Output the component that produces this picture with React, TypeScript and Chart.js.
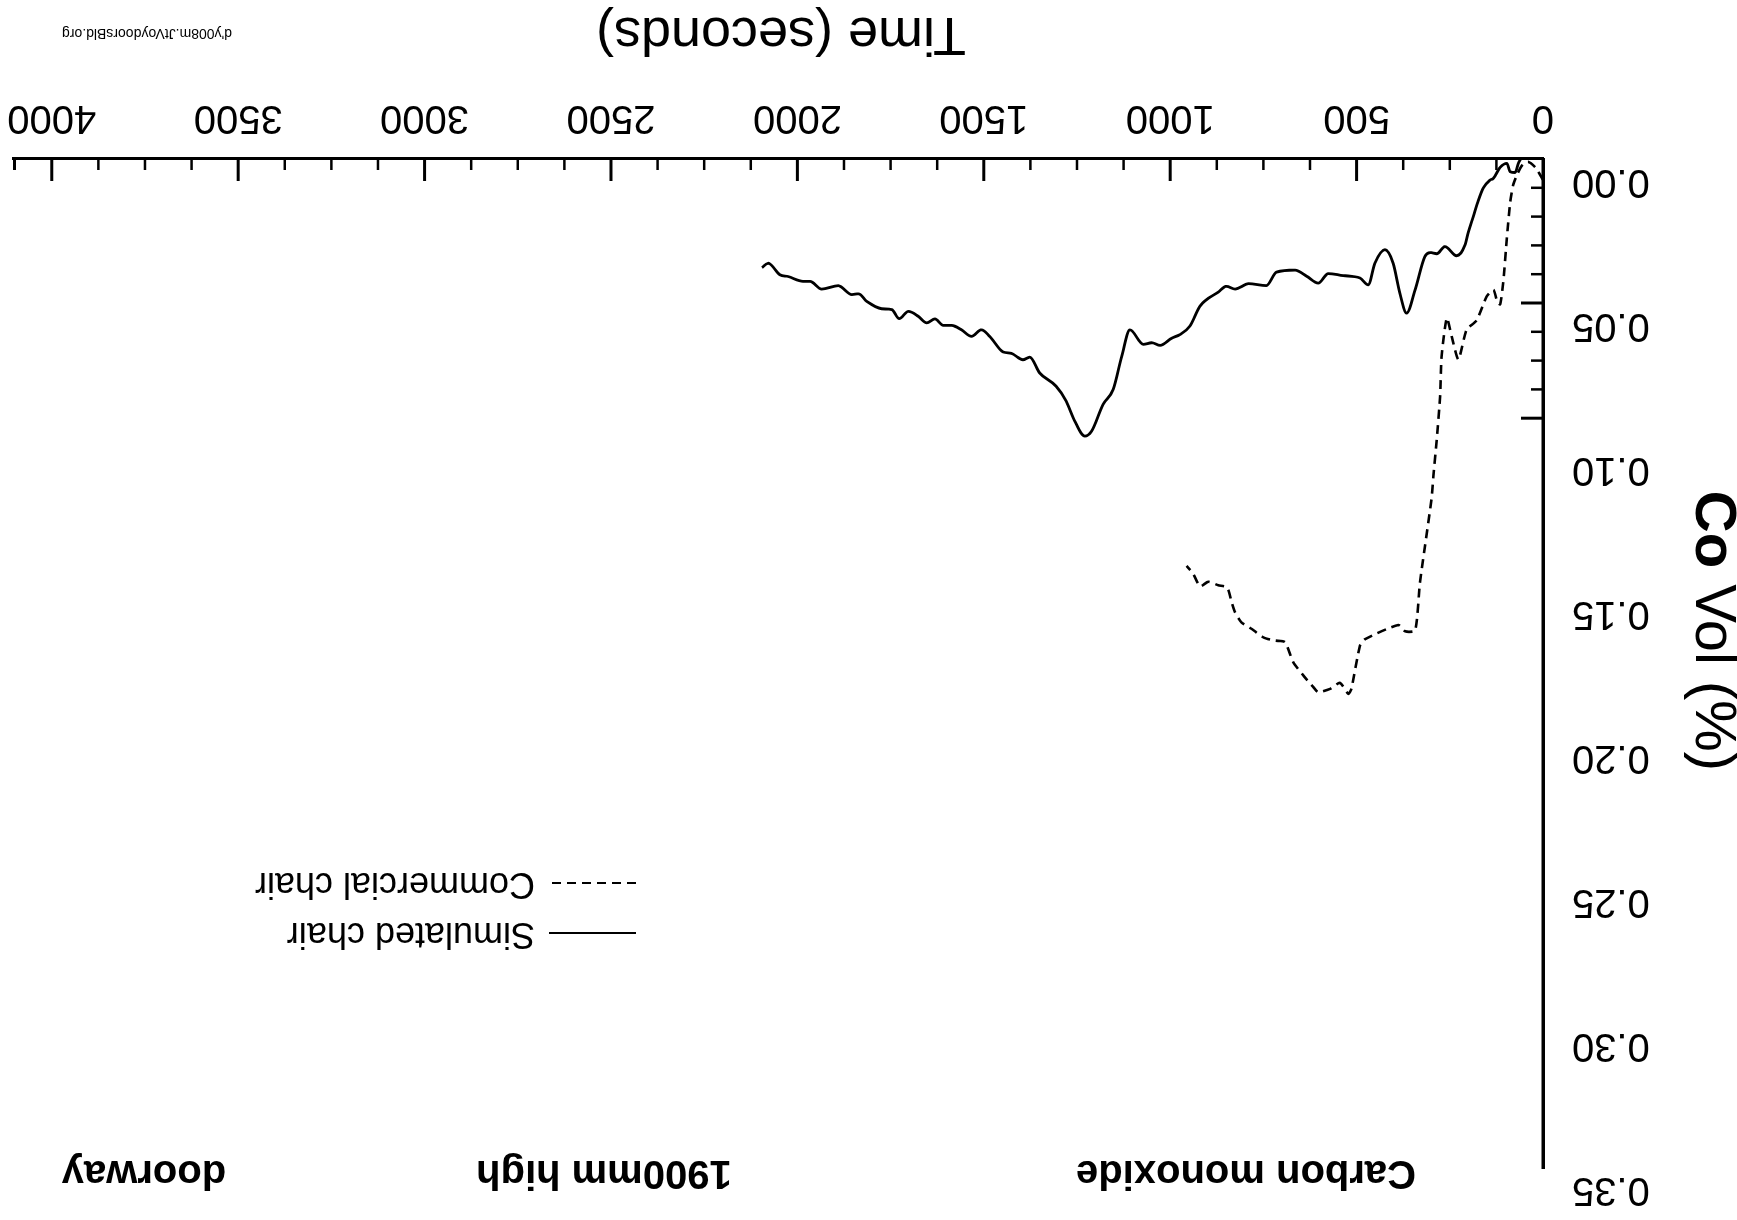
import { useEffect, useRef } from 'react';
import { Chart, registerables } from 'chart.js';

Chart.register(...registerables);

// ---- Data (time in seconds, CO volume in %) ----
const simulatedTime = [
  60, 66, 75, 88, 97, 115, 133, 142, 160, 175, 187, 201, 209, 232, 263, 285, 303, 317, 343, 366,
  384, 402, 424, 451, 469, 491, 536, 576, 603, 634, 665, 715, 742, 790, 826, 849, 871, 920, 947, 974,
  996, 1027, 1050, 1072, 1108, 1130, 1153, 1180, 1211, 1229, 1256, 1279, 1306, 1350, 1377, 1395, 1426, 1448, 1484, 1506,
  1533, 1560, 1586, 1609, 1631, 1653, 1676, 1702, 1727, 1747, 1774, 1814, 1836, 1854, 1890, 1935, 1966, 1985, 2025, 2047,
  2078, 2095,
];
const simulatedCO = [
  0.0, 0.0015, 0.0047, 0.0044, 0.0015, 0.0029, 0.0067, 0.0073, 0.01, 0.015, 0.02, 0.0257, 0.0298, 0.0336, 0.0304, 0.0329, 0.0325, 0.0339, 0.0454, 0.0535,
  0.0466, 0.0362, 0.0315, 0.0362, 0.0437, 0.0413, 0.0405, 0.0398, 0.0431, 0.0407, 0.0386, 0.0393, 0.044, 0.0433, 0.0452, 0.0442, 0.0462, 0.0511, 0.058, 0.061,
  0.0622, 0.0647, 0.0638, 0.0644, 0.0593, 0.0685, 0.08, 0.0852, 0.0945, 0.0962, 0.091, 0.0841, 0.0789, 0.0743, 0.0688, 0.0697, 0.0675, 0.067, 0.0616, 0.0593,
  0.0616, 0.0593, 0.0578, 0.0578, 0.0555, 0.0569, 0.0546, 0.0529, 0.0554, 0.0523, 0.052, 0.0494, 0.0468, 0.0471, 0.044, 0.0452, 0.0425, 0.0425, 0.0408, 0.0402,
  0.0362, 0.0377,
];
const commercialTime = [
  0, 20, 40, 55, 68, 80, 88, 97, 106, 115, 124, 133, 151, 178, 205, 227, 245, 258, 272, 276,
  285, 294, 299, 330, 343, 370, 388, 477, 491, 514, 522, 545, 571, 603, 616, 643, 670, 692, 719, 750,
  781, 809, 826, 835, 847, 871, 898, 920, 938, 956,
];
const commercialCO = [
  0.0072, 0.003, 0.001, 0.002, 0.005, 0.009, 0.015, 0.0275, 0.0419, 0.0505, 0.0489, 0.0454, 0.0477, 0.056, 0.0593, 0.0696, 0.0616, 0.0552, 0.0685, 0.0824,
  0.0974, 0.11, 0.118, 0.147, 0.1637, 0.164, 0.1618, 0.1667, 0.169, 0.184, 0.1857, 0.1819, 0.184, 0.1851, 0.1834, 0.1793, 0.1747, 0.1678, 0.1672, 0.1661,
  0.1632, 0.1609, 0.1574, 0.154, 0.1488, 0.148, 0.1468, 0.1484, 0.1441, 0.1413,
];

const seriesLabels = ['Simulated chair', 'Commercial chair'];
const xMin = 0;
const xMax = 4104;
const xTickValues = [0, 500, 1000, 1500, 2000, 2500, 3000, 3500, 4000];
const xMinorStep = 125;
const xTickEnd = 4000;
const yMin = 0;
const yMax = 0.35;
const yTickValues = [0, 0.05, 0.1, 0.15, 0.2, 0.25, 0.3, 0.35];
const yMinorTicks = [0.01, 0.02, 0.03, 0.04, 0.05, 0.06, 0.07, 0.08, 0.09];
const yLongTicks = [0.05, 0.09];
const xTitle = 'Time (seconds)';
const yTitleBold = 'Co';
const yTitleRest = ' Vol (%)';
const titleParts = ['Carbon monoxide', '1900mm high', 'doorway'];
const watermark = "d'y008m.JtVoydoorsBld.org";

const FONT = '"Liberation Sans", Arial, Helvetica, sans-serif';

const decorPlugin = {
  id: 'decor',
  afterDraw(chart: any) {
    const { ctx, chartArea } = chart;
    const x = chart.scales.x;
    const y = chart.scales.y;
    ctx.save();
    ctx.strokeStyle = '#000';
    ctx.fillStyle = '#000';
    ctx.lineCap = 'butt';

    // x-axis tick marks pointing into the plot
    for (let t = xMinorStep; t <= xTickEnd; t += xMinorStep) {
      const px = x.getPixelForValue(t);
      const major = xTickValues.includes(t);
      ctx.lineWidth = major ? 3 : 2.5;
      ctx.beginPath();
      ctx.moveTo(px, chartArea.bottom);
      ctx.lineTo(px, chartArea.bottom - (major ? 22 : 11));
      ctx.stroke();
    }
    // small hook at the end of the x axis
    ctx.lineWidth = 3;
    ctx.beginPath();
    ctx.moveTo(chartArea.right - 1.5, chartArea.bottom);
    ctx.lineTo(chartArea.right - 1.5, chartArea.bottom - 11);
    ctx.stroke();

    // y-axis tick marks pointing into the plot
    yMinorTicks.forEach((v) => {
      const py = y.getPixelForValue(v);
      const major = yLongTicks.includes(v);
      ctx.lineWidth = major ? 3 : 2.5;
      ctx.beginPath();
      ctx.moveTo(chartArea.left, py);
      ctx.lineTo(chartArea.left + (major ? 22 : 12), py);
      ctx.stroke();
    });

    // x-axis title
    ctx.font = `54px ${FONT}`;
    ctx.textAlign = 'center';
    ctx.textBaseline = 'middle';
    ctx.fillText(xTitle, (chartArea.left + chartArea.right) / 2 - 3, 1187);

    // y-axis title: bold "Co" + regular " Vol (%)"
    ctx.save();
    ctx.translate(25, 589);
    ctx.rotate(-Math.PI / 2);
    ctx.textAlign = 'left';
    ctx.textBaseline = 'middle';
    ctx.font = `bold 58px ${FONT}`;
    const wBold = ctx.measureText(yTitleBold).width;
    ctx.font = `58px ${FONT}`;
    const wRest = ctx.measureText(yTitleRest).width;
    const start = -(wBold + wRest) / 2;
    ctx.font = `bold 58px ${FONT}`;
    ctx.fillText(yTitleBold, start, 0);
    ctx.font = `58px ${FONT}`;
    ctx.fillText(yTitleRest, start + wBold, 0);
    ctx.restore();

    // chart title (cut off at the page edge)
    ctx.font = `bold 40px ${FONT}`;
    ctx.textAlign = 'center';
    ctx.textBaseline = 'middle';
    const titleX = [491, 1133, 1593];
    titleParts.forEach((s, i) => ctx.fillText(s, titleX[i], 48));

    // legend
    const rows = [287, 337];
    chart.data.datasets.forEach((ds: any, i: number) => {
      const yy = rows[i];
      ctx.save();
      ctx.lineWidth = 2.2;
      ctx.setLineDash(ds.borderDash || []);
      ctx.beginPath();
      ctx.moveTo(1101, yy);
      ctx.lineTo(1188, yy);
      ctx.stroke();
      ctx.restore();
      ctx.font = `36px ${FONT}`;
      ctx.textAlign = 'left';
      ctx.textBaseline = 'middle';
      ctx.fillText(ds.label, 1202, yy);
    });

    // tiny source mark
    ctx.font = `14px ${FONT}`;
    ctx.textAlign = 'center';
    ctx.fillText(watermark, 1590, 1187);

    ctx.restore();
  },
};

function CoChart() {
  const ref = useRef<HTMLCanvasElement | null>(null);
  useEffect(() => {
    if (!ref.current) return;
    const chart = new Chart(ref.current, {
      type: 'line',
      data: {
        datasets: [
          {
            label: seriesLabels[0],
            data: simulatedTime.map((t, i) => ({ x: t, y: simulatedCO[i] })),
            borderColor: '#000',
            borderWidth: 2.8,
            pointRadius: 0,
            cubicInterpolationMode: 'monotone',
            fill: false,
          },
          {
            label: seriesLabels[1],
            data: commercialTime.map((t, i) => ({ x: t, y: commercialCO[i] })),
            borderColor: '#000',
            borderWidth: 2.6,
            borderDash: [9, 6],
            pointRadius: 0,
            tension: 0.2,
            fill: false,
          },
        ],
      },
      options: {
        animation: false,
        responsive: false,
        devicePixelRatio: 1,
        layout: { padding: { left: 0, right: 13, top: 51, bottom: 0 } },
        plugins: { legend: { display: false }, tooltip: { enabled: false }, title: { display: false } },
        scales: {
          x: {
            type: 'linear',
            min: xMin,
            max: xMax,
            afterBuildTicks: (s: any) => {
              s.ticks = xTickValues.map((v) => ({ value: v }));
            },
            afterFit: (s: any) => {
              s.height = 159;
              s.paddingRight = 0;
              s.paddingLeft = 0;
            },
            grid: { display: false, drawTicks: false },
            border: { display: true, color: '#000', width: 3 },
            ticks: {
              autoSkip: false,
              maxRotation: 0,
              minRotation: 0,
              padding: 18,
              color: '#000',
              font: { family: FONT, size: 40 },
              callback: (v: any) => String(v),
            },
          },
          y: {
            type: 'linear',
            min: yMin,
            max: yMax,
            afterBuildTicks: (s: any) => {
              s.ticks = yTickValues.map((v) => ({ value: v }));
            },
            afterFit: (s: any) => {
              s.width = 194;
            },
            grid: { display: false, drawTicks: false },
            border: { display: true, color: '#000', width: 3.5 },
            ticks: {
              autoSkip: false,
              padding: 29,
              labelOffset: -22,
              color: '#000',
              font: { family: FONT, size: 40 },
              callback: (v: any) => Number(v).toFixed(2),
            },
          },
        },
      },
      plugins: [decorPlugin],
    } as any);
    return () => chart.destroy();
  }, []);
  return <canvas ref={ref} width={1737} height={1220} style={{ display: 'block', width: 1737, height: 1220 }} />;
}

export default function App() {
  return (
    <div
      style={{
        position: 'absolute',
        left: 0,
        top: 0,
        width: 1737,
        height: 1220,
        background: '#fff',
        transform: 'rotate(180deg)',
        overflow: 'hidden',
      }}
    >
      <CoChart />
    </div>
  );
}
